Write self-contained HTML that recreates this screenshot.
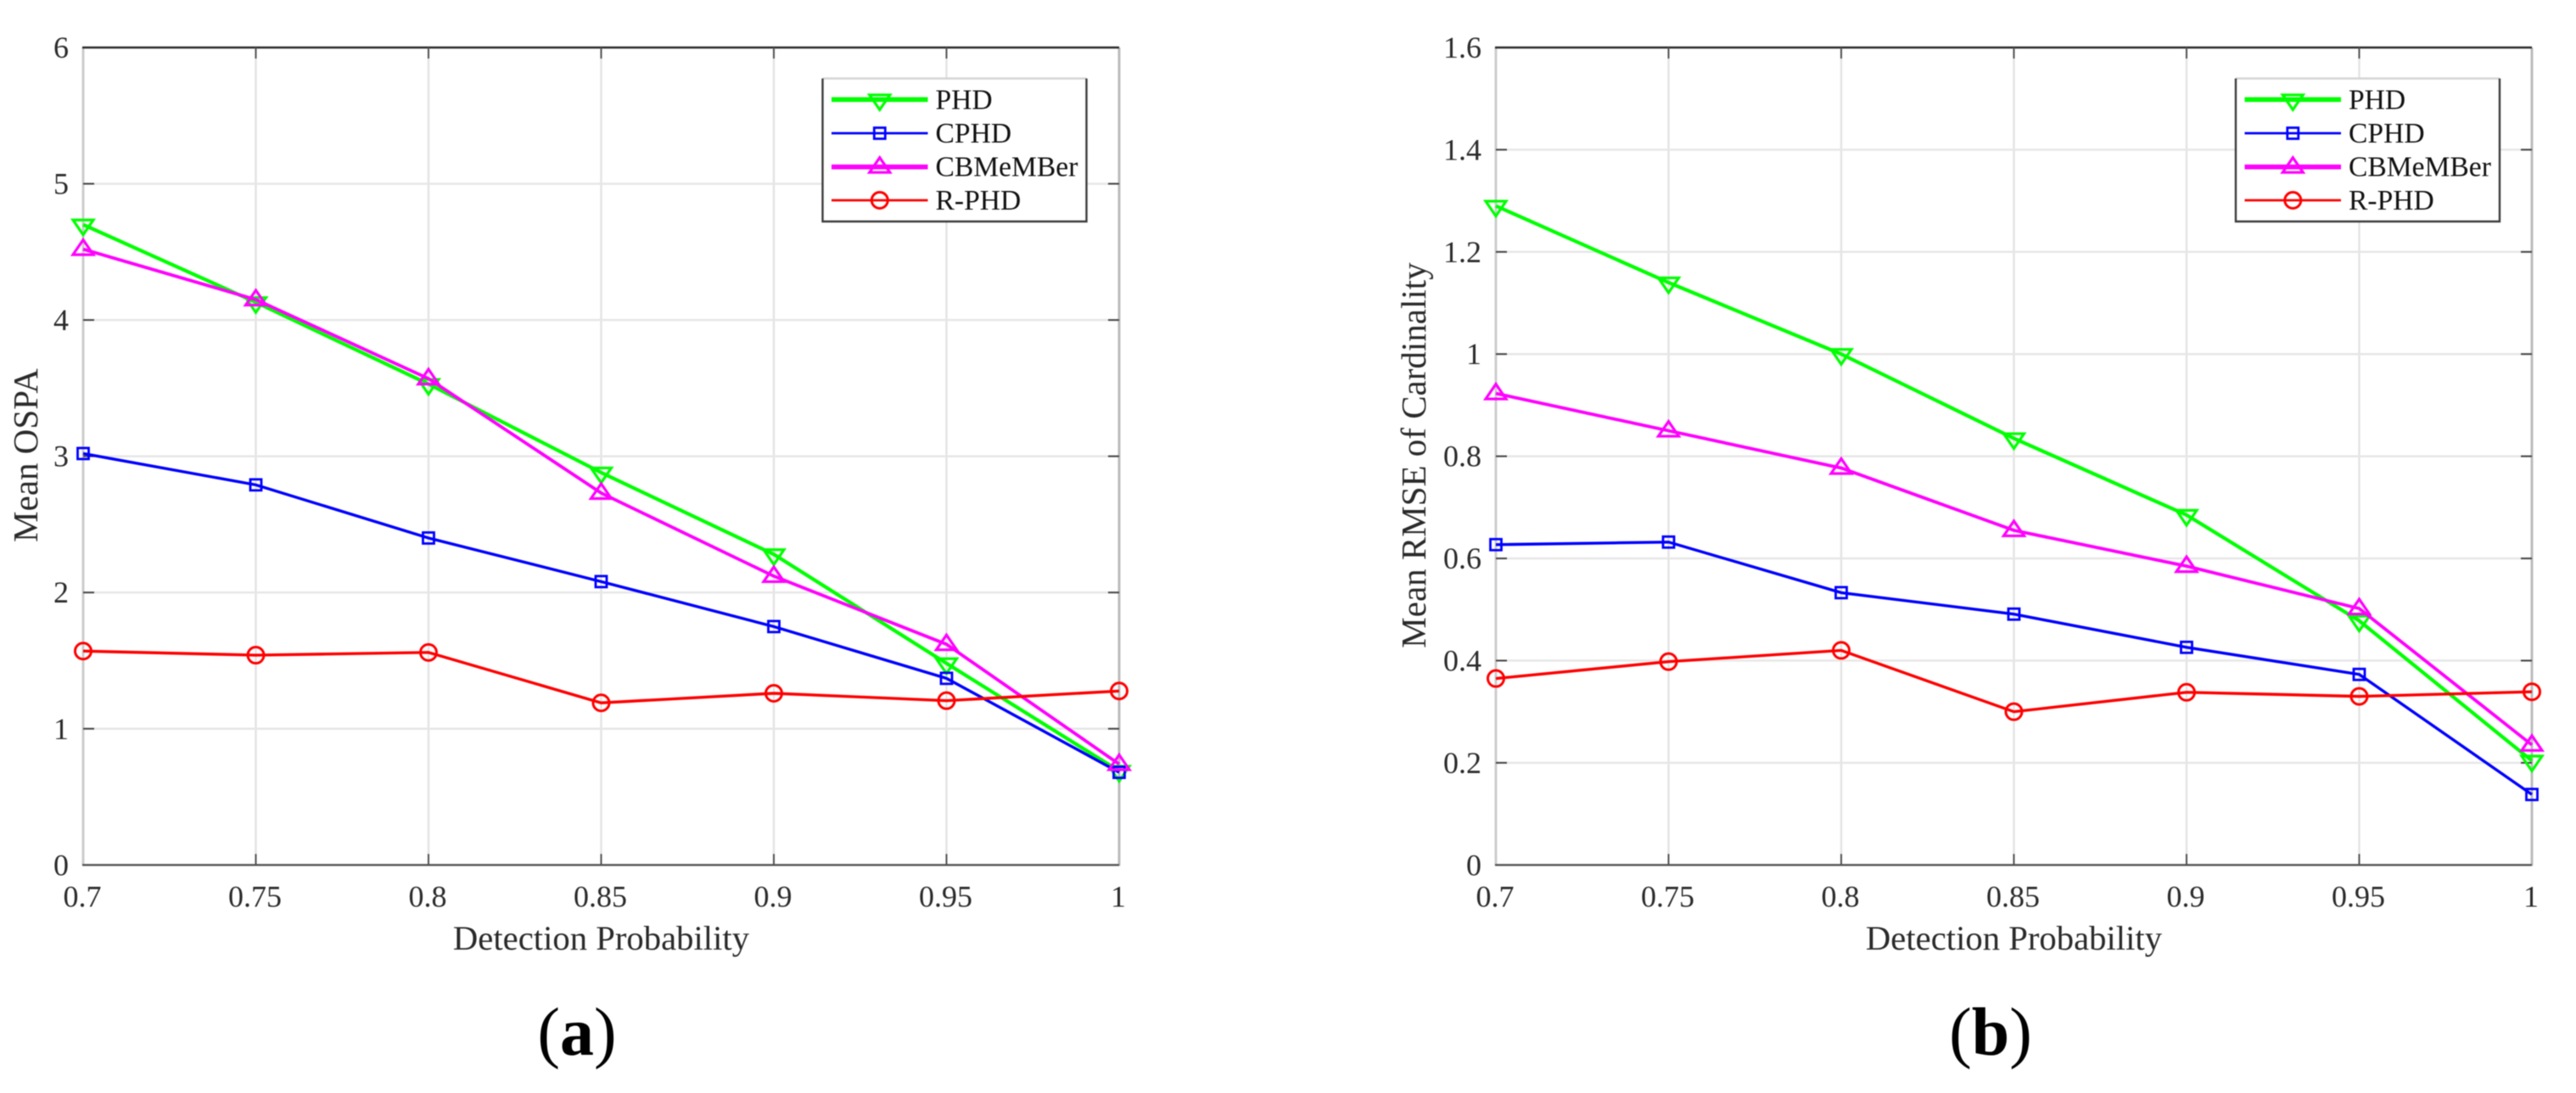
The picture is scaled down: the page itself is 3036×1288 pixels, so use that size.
<!DOCTYPE html>
<html lang="en">
<head>
<meta charset="utf-8">
<title>Detection probability comparison</title>
<style>
html,body{margin:0;padding:0;background:#fff;}
body{width:3036px;height:1288px;overflow:hidden;}
svg{display:block;filter:blur(0.6px);}
text{font-family:"Liberation Serif",serif;fill:#2a2a2a;}
</style>
</head>
<body>
<svg id="figure" xmlns="http://www.w3.org/2000/svg" width="3036" height="1288" viewBox="0 0 3036 1288">
<rect width="3036" height="1288" fill="#fff"/>
<text x="680" y="1243" font-size="80" text-anchor="middle" style="fill:#000">(<tspan font-weight="bold">a</tspan>)</text>
<text x="2346" y="1243" font-size="80" text-anchor="middle" style="fill:#000">(<tspan font-weight="bold">b</tspan>)</text>
</svg>
<script>
const categories = [0.7, 0.75, 0.8, 0.85, 0.9, 0.95, 1];
const xTickLabels = ['0.7', '0.75', '0.8', '0.85', '0.9', '0.95', '1'];
const seriesNames = ['PHD', 'CPHD', 'CBMeMBer', 'R-PHD'];

const ospaTicks = [0, 1, 2, 3, 4, 5, 6];
const ospaTickLabels = ['0', '1', '2', '3', '4', '5', '6'];
const ospaPhd = [4.70, 4.13, 3.53, 2.88, 2.28, 1.48, 0.69];
const ospaCphd = [3.02, 2.79, 2.40, 2.08, 1.75, 1.37, 0.68];
const ospaCbm = [4.52, 4.15, 3.57, 2.73, 2.12, 1.62, 0.74];
const ospaRphd = [1.57, 1.54, 1.56, 1.19, 1.26, 1.206, 1.277];

const rmseTicks = [0, 0.2, 0.4, 0.6, 0.8, 1, 1.2, 1.4, 1.6];
const rmseTickLabels = ['0', '0.2', '0.4', '0.6', '0.8', '1', '1.2', '1.4', '1.6'];
const rmsePhd = [1.29, 1.14, 1.0, 0.835, 0.685, 0.478, 0.204];
const rmseCphd = [0.627, 0.632, 0.533, 0.491, 0.426, 0.373, 0.138];
const rmseCbm = [0.923, 0.85, 0.777, 0.655, 0.585, 0.502, 0.235];
const rmseRphd = [0.365, 0.398, 0.42, 0.30, 0.338, 0.33, 0.339];

const svg = document.getElementById('figure');
const NS = 'http://www.w3.org/2000/svg';

function make(tag, attrs, parent) {
  const el = document.createElementNS(NS, tag);
  for (const k in attrs) el.setAttribute(k, attrs[k]);
  parent.appendChild(el);
  return el;
}

function drawMarker(parent, kind, cx, cy, color) {
  let m;
  if (kind === 'down') {
    m = make('polygon', {points: (cx-12)+','+(cy-5.5)+' '+(cx+12)+','+(cy-5.5)+' '+cx+','+(cy+12), fill: 'none', stroke: color, 'stroke-width': 3.2}, parent);
  } else if (kind === 'up') {
    m = make('polygon', {points: (cx-12)+','+(cy+6.5)+' '+(cx+12)+','+(cy+6.5)+' '+cx+','+(cy-11), fill: 'none', stroke: color, 'stroke-width': 3.2}, parent);
  } else if (kind === 'square') {
    m = make('rect', {x: cx-6.5, y: cy-6.5, width: 13, height: 13, fill: 'none', stroke: color, 'stroke-width': 2.8}, parent);
  } else {
    m = make('circle', {cx: cx, cy: cy, r: 9.5, fill: 'none', stroke: color, 'stroke-width': 3}, parent);
  }
  
  
}

const seriesMarkers = ['down', 'square', 'up', 'circle'];
const seriesColors = ['#00ff00', '#0000ff', '#ff00ff', '#ff0000'];
const plotWidths = [4.2, 3.4, 3.8, 3.4];
const legendWidths = [5.6, 2.8, 5.6, 2.8];

function drawPanel(cfg) {
  const g = make('g', {}, svg);
  
  
  const L = cfg.left, R = cfg.right, T = 56, B = 1019.3;
  const sx = v => L + (v - categories[0]) / (categories[categories.length-1] - categories[0]) * (R - L);
  const sy = v => B - v / cfg.ticks[cfg.ticks.length-1] * (B - T);

  categories.forEach((c, i) => {
    const x = sx(c);
    if (i > 0 && i < categories.length - 1) {
      const gl = make('line', {x1: x, x2: x, y1: T, y2: B, stroke: '#e3e3e3', 'stroke-width': 2.4}, g);
      
      
    }
  });
  cfg.ticks.forEach((t, i) => {
    const y = sy(t);
    if (i > 0 && i < cfg.ticks.length - 1) {
      const gl = make('line', {x1: L, x2: R, y1: y, y2: y, stroke: '#e6e6e6', 'stroke-width': 2.4}, g);
      
      
    }
  });

  const leftEdge = make('line', {x1: L, x2: L, y1: T, y2: B, stroke: '#cccccc', 'stroke-width': 3}, g);
  
  
  const rightEdge = make('line', {x1: R, x2: R, y1: T, y2: B+1, stroke: '#bbbbbb', 'stroke-width': 3}, g);
  
  
  const topEdge = make('line', {x1: L-1, x2: R, y1: T, y2: T, stroke: '#2a2a2a', 'stroke-width': 2.4}, g);
  
  
  const bottomEdge = make('line', {x1: L-1, x2: R, y1: B, y2: B, stroke: '#555555', 'stroke-width': 2.4}, g);
  
  

  categories.forEach((c, i) => {
    const x = sx(c);
    if (i > 0 && i < categories.length - 1) {
      const t1 = make('line', {x1: x, x2: x, y1: B, y2: B-13, stroke: '#555', 'stroke-width': 2}, g);
      
      
      const t2 = make('line', {x1: x, x2: x, y1: T, y2: T+13, stroke: '#555', 'stroke-width': 2}, g);
      
      
    }
    const lab = make('text', {x: x - 1, y: 1068.5, 'font-size': 36, 'text-anchor': 'middle'}, g);
    lab.textContent = xTickLabels[i];
    
    
  });
  cfg.ticks.forEach((t, i) => {
    const y = sy(t);
    if (i > 0 && i < cfg.ticks.length - 1) {
      const t1 = make('line', {x1: L, x2: L+13, y1: y, y2: y, stroke: '#444', 'stroke-width': 2}, g);
      
      
      const t2 = make('line', {x1: R-13, x2: R, y1: y, y2: y, stroke: '#444', 'stroke-width': 2}, g);
      
      
    }
    const lab = make('text', {x: L - 17, y: y + 12, 'font-size': 36, 'text-anchor': 'end'}, g);
    lab.textContent = cfg.tickLabels[i];
    
    
  });

  const xTitle = make('text', {x: (L+R)/2, y: 1119, 'font-size': 40.7, 'text-anchor': 'middle'}, g);
  xTitle.textContent = 'Detection Probability';
  
  
  const yTitle = make('text', {x: 0, y: 0, 'font-size': 41, 'text-anchor': 'middle', transform: 'translate(' + cfg.titleX + ',536.5) rotate(-90)'}, g);
  yTitle.textContent = cfg.yTitle;
  
  

  cfg.series.forEach((vals, si) => {
    const pts = vals.map((v, i) => sx(categories[i]) + ',' + sy(v)).join(' ');
    const line = make('polyline', {points: pts, fill: 'none', stroke: seriesColors[si], 'stroke-width': plotWidths[si]}, g);
    
    
    vals.forEach((v, i) => drawMarker(g, seriesMarkers[si], sx(categories[i]), sy(v), seriesColors[si]));
  });

  const lg = make('g', {}, g);
  
  
  const lx = cfg.legendX, lw = 311, ly = 92.5, lh = 168.5;
  const bg = make('rect', {x: lx, y: ly, width: lw, height: lh, fill: '#fff'}, lg);
  
  
  const bt = make('line', {x1: lx, x2: lx+lw, y1: ly, y2: ly, stroke: '#d4d4d4', 'stroke-width': 2.4}, lg);
  
  
  const bo = make('polyline', {points: lx+','+ly+' '+lx+','+(ly+lh)+' '+(lx+lw)+','+(ly+lh)+' '+(lx+lw)+','+ly, fill: 'none', stroke: '#3c3c3c', 'stroke-width': 2.4}, lg);
  
  
  const rowY = [117.3, 157, 196.7, 236];
  seriesNames.forEach((n, si) => {
    const y = rowY[si];
    const ll = make('line', {x1: lx+10.5, x2: lx+124, y1: y, y2: y, stroke: seriesColors[si], 'stroke-width': legendWidths[si]}, lg);
    
    
    drawMarker(lg, seriesMarkers[si], lx+67.3, y, seriesColors[si]);
    const tx = make('text', {x: lx+133, y: y + 11, 'font-size': 33.6}, lg);
    tx.style.fill = '#111';
    tx.textContent = n;
    
    
  });
}

drawPanel({name: 'chart-mean-ospa', left: 98, right: 1319, titleX: 44, yTitle: 'Mean OSPA', ticks: ospaTicks, tickLabels: ospaTickLabels, series: [ospaPhd, ospaCphd, ospaCbm, ospaRphd], legendX: 969.5});
drawPanel({name: 'chart-mean-rmse', left: 1763, right: 2984, titleX: 1680, yTitle: 'Mean RMSE of Cardinality', ticks: rmseTicks, tickLabels: rmseTickLabels, series: [rmsePhd, rmseCphd, rmseCbm, rmseRphd], legendX: 2635});
</script>
</body>
</html>
